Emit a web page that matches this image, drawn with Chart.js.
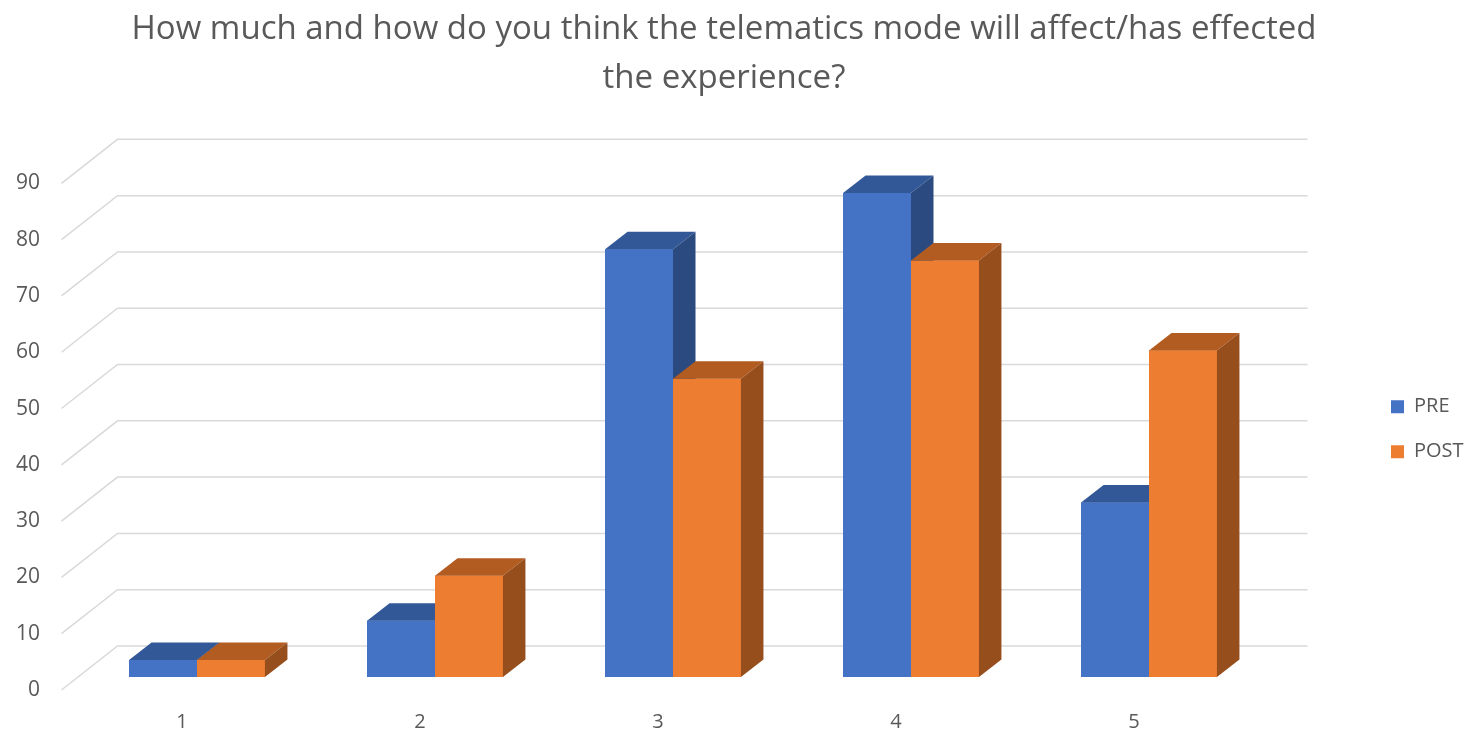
<!DOCTYPE html>
<html>
<head>
<meta charset="utf-8">
<script src="https://cdn.jsdelivr.net/npm/chart.js@4.4.1/dist/chart.umd.min.js"></script>
<style>
  html, body { margin: 0; padding: 0; background: #fff; }
  #wrap { width: 1477px; height: 744px; }
</style>
</head>
<body>
<div id="wrap"><canvas id="telematicsChart"></canvas></div>
<script>
var categories = ['1', '2', '3', '4', '5'];
var preValues = [3, 10, 76, 86, 31];
var postValues = [3, 18, 53, 74, 58];
var seriesNames = ['PRE', 'POST'];
var titleLines = ['How much and how do you think the telematics mode will affect/has effected', 'the experience?'];

// fake 3d: offsets for bar depth, back wall and floor edge
var depth = { dx: 22.5, dy: -17.5 };
var wall = { dx: 39.5, dy: -31 };
var floorEdge = { dx: -16.5, dy: 13 };
var sideColors = [['#325897', '#2a4a80'], ['#b35c21', '#964e1d']];

var wallGrid = {
  id: 'wallGrid',
  beforeDatasetsDraw: function (chart) {
    var ctx = chart.ctx;
    var a = chart.chartArea;
    var ys = chart.scales.y;
    ctx.save();
    ctx.strokeStyle = '#d9d9d9';
    ctx.lineWidth = 1.5;
    ys.ticks.forEach(function (t) {
      var py = ys.getPixelForValue(t.value);
      ctx.beginPath();
      ctx.moveTo(a.left + floorEdge.dx, py + floorEdge.dy);
      ctx.lineTo(a.left + wall.dx, py + wall.dy);
      ctx.lineTo(a.right + wall.dx, py + wall.dy);
      ctx.stroke();
    });
    ctx.restore();
  }
};

// chart.js paints the datasets last to first, so repaint PRE then POST
// with their top and side faces to get the overlap right
var barFaces = {
  id: 'barFaces',
  afterDatasetsDraw: function (chart) {
    var ctx = chart.ctx;
    for (var i = 0; i < chart.data.datasets.length; i++) {
      var meta = chart.getDatasetMeta(i);
      var cols = sideColors[i];
      meta.data.forEach(function (bar) {
        var p = bar.getProps(['x', 'y', 'base', 'width'], true);
        var l = p.x - p.width / 2, r = p.x + p.width / 2;
        bar.draw(ctx);
        ctx.save();
        ctx.fillStyle = cols[0];
        ctx.beginPath();
        ctx.moveTo(l, p.y);
        ctx.lineTo(r, p.y);
        ctx.lineTo(r + depth.dx, p.y + depth.dy);
        ctx.lineTo(l + depth.dx, p.y + depth.dy);
        ctx.closePath();
        ctx.fill();
        ctx.fillStyle = cols[1];
        ctx.beginPath();
        ctx.moveTo(r, p.y);
        ctx.lineTo(r + depth.dx, p.y + depth.dy);
        ctx.lineTo(r + depth.dx, p.base + depth.dy);
        ctx.lineTo(r, p.base);
        ctx.closePath();
        ctx.fill();
        ctx.restore();
      });
    }
  }
};

var ctx = document.getElementById('telematicsChart').getContext('2d');
var chart = new Chart(ctx, {
  type: 'bar',
  data: {
    labels: categories,
    datasets: [{
      label: seriesNames[0],
      data: preValues,
      backgroundColor: '#4472c4',
      borderWidth: 0
    }, {
      label: seriesNames[1],
      data: postValues,
      backgroundColor: '#ed7d31',
      borderWidth: 0
    }]
  },
  options: {
    responsive: true,
    maintainAspectRatio: false,
    animation: false,
    // left padding is negative so the full-width title centres like the original
    layout: { padding: { left: -19, right: 10, top: 0, bottom: 0 } },
    datasets: {
      bar: { barPercentage: 1, categoryPercentage: 0.571 }
    },
    scales: {
      x: {
        grid: { display: false, drawTicks: false },
        border: { display: false },
        ticks: {
          color: '#595959',
          font: { family: 'Open Sans', size: 20 },
          padding: 33,
          labelOffset: -15
        },
        afterFit: function (scale) { scale.height = 67; }
      },
      y: {
        min: 0,
        max: 90,
        grid: { display: false, drawTicks: false },
        border: { display: false },
        ticks: {
          stepSize: 10,
          color: '#595959',
          font: { family: 'Open Sans', size: 21 },
          padding: 38,
          labelOffset: 13
        },
        afterFit: function (scale) { scale.width = 97; }
      },
      spacer: {
        position: 'right',
        display: true,
        grid: { display: false, drawTicks: false },
        border: { display: false },
        ticks: { display: false },
        afterFit: function (scale) { scale.width = 98; }
      }
    },
    plugins: {
      title: {
        display: true,
        text: titleLines,
        color: '#595959',
        font: { family: 'Open Sans', size: 33, weight: 'normal', lineHeight: 1.46 },
        padding: { top: 6, bottom: 68 }
      },
      legend: {
        position: 'right',
        fullSize: false,
        maxWidth: 101,
        title: { display: true, text: '', padding: 0, font: { size: 11, lineHeight: 1 } },
        labels: {
          boxWidth: 13,
          boxHeight: 13,
          padding: 25,
          color: '#595959',
          font: { family: 'Open Sans', size: 20 }
        }
      },
      tooltip: { enabled: false }
    }
  },
  plugins: [wallGrid, barFaces]
});
</script>
</body>
</html>
